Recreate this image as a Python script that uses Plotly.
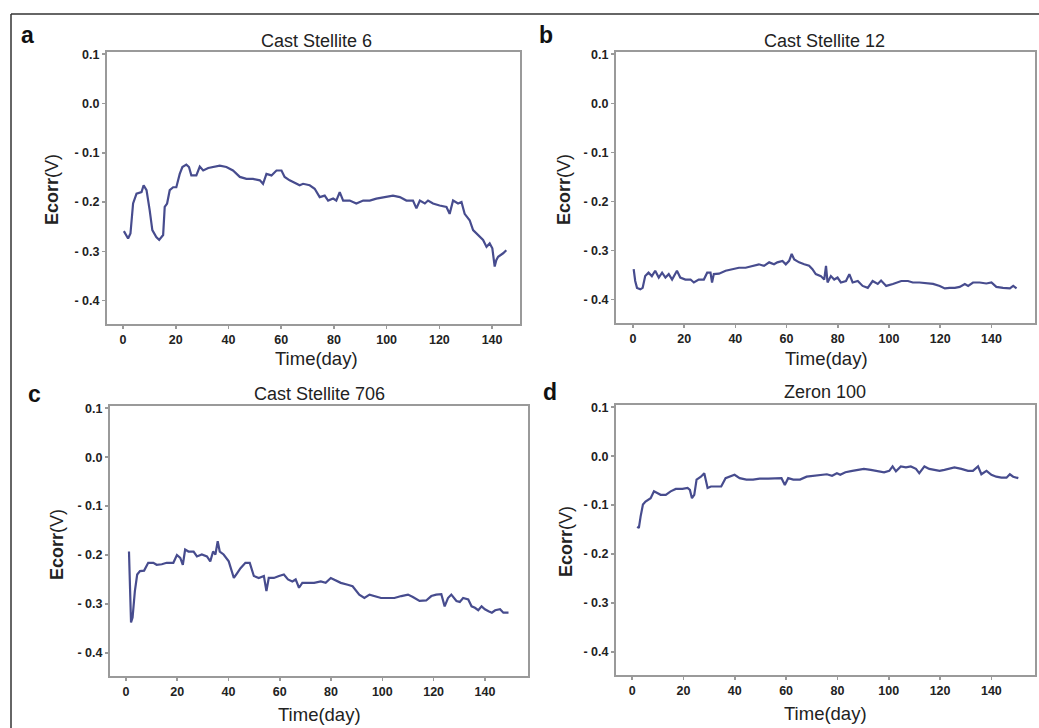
import plotly.graph_objects as go

W, H = 1039, 728

# ---------------- data ----------------
titles = ["Cast Stellite 6", "Cast Stellite 12", "Cast Stellite 706", "Zeron 100"]
letters = ["a", "b", "c", "d"]
x_ticks = [0, 20, 40, 60, 80, 100, 120, 140]
y_ticks = [0.1, 0.0, -0.1, -0.2, -0.3, -0.4]
y_tick_text = ["0.1", "0.0", "- 0.1", "- 0.2", "- 0.3", "- 0.4"]
x_label = "Time(day)"
y_label = "<b>Ecorr</b>(V)"

days_a = [0.3, 1.0, 1.9, 2.8, 3.8, 5.1, 7.0, 7.8, 8.9, 10.1, 11.1, 12.6, 13.7, 15.2, 15.8, 16.7,
          17.7, 19.0, 20.2, 21.5, 22.5, 24.0, 25.0, 25.9, 27.8, 29.1, 30.4, 32.3, 34.1, 36.7, 39.2,
          41.7, 44.3, 46.8, 49.3, 51.9, 53.1, 54.4, 56.3, 58.2, 60.1, 61.3, 63.2, 65.8, 67.0, 68.3,
          70.8, 72.7, 74.6, 76.5, 77.8, 79.7, 80.9, 82.2, 83.5, 86.0, 88.5, 91.1, 93.6, 96.1, 98.6,
          102.4, 105.0, 107.5, 110.0, 111.3, 112.6, 114.5, 115.7, 117.6, 120.1, 122.7, 123.9, 125.2,
          127.1, 128.4, 129.6, 131.5, 132.8, 134.1, 135.3, 136.6, 137.9, 139.1, 140.1, 141.0, 141.6,
          142.3, 144.2, 145.4]
ecorr_a = [-0.259, -0.267, -0.274, -0.264, -0.203, -0.183, -0.180, -0.166, -0.176, -0.217, -0.257,
           -0.271, -0.277, -0.267, -0.210, -0.203, -0.176, -0.170, -0.170, -0.143, -0.129, -0.124,
           -0.129, -0.146, -0.146, -0.128, -0.136, -0.131, -0.129, -0.126, -0.129, -0.136, -0.149,
           -0.153, -0.153, -0.156, -0.163, -0.143, -0.146, -0.136, -0.136, -0.149, -0.156, -0.163,
           -0.166, -0.163, -0.166, -0.173, -0.190, -0.187, -0.197, -0.193, -0.197, -0.180, -0.197,
           -0.197, -0.203, -0.197, -0.197, -0.193, -0.190, -0.187, -0.190, -0.197, -0.197, -0.213,
           -0.197, -0.203, -0.197, -0.203, -0.207, -0.210, -0.224, -0.197, -0.203, -0.200, -0.224,
           -0.237, -0.257, -0.264, -0.271, -0.277, -0.291, -0.284, -0.294, -0.331, -0.318, -0.311,
           -0.304, -0.298]

days_b = [0.3, 0.9, 1.6, 2.9, 3.8, 4.8, 6.1, 7.4, 8.7, 10.1, 11.4, 12.7, 14.0, 15.3, 17.2, 18.5,
          20.5, 22.5, 23.8, 25.7, 27.7, 29.0, 30.3, 30.9, 31.6, 33.6, 36.2, 38.8, 41.4, 44.0, 46.6,
          49.2, 51.2, 53.2, 55.1, 56.4, 58.4, 59.7, 61.0, 62.0, 63.0, 64.9, 66.9, 68.8, 70.1, 71.4,
          73.4, 74.7, 75.4, 76.0, 77.3, 78.6, 79.9, 81.2, 83.2, 84.5, 85.8, 87.8, 89.7, 91.7, 93.6,
          95.6, 96.9, 98.9, 101.5, 104.8, 107.4, 109.3, 111.9, 114.6, 117.2, 119.8, 121.8, 123.7,
          125.7, 127.6, 129.6, 130.9, 132.8, 135.4, 138.0, 140.0, 141.9, 144.5, 147.2, 148.5, 149.8]
ecorr_b = [-0.338, -0.362, -0.376, -0.379, -0.376, -0.352, -0.345, -0.352, -0.341, -0.355, -0.345,
           -0.355, -0.348, -0.359, -0.341, -0.355, -0.359, -0.359, -0.365, -0.359, -0.359, -0.345,
           -0.345, -0.365, -0.348, -0.347, -0.341, -0.338, -0.335, -0.335, -0.331, -0.328, -0.331,
           -0.324, -0.328, -0.324, -0.321, -0.328, -0.321, -0.307, -0.318, -0.324, -0.328, -0.331,
           -0.338, -0.348, -0.352, -0.359, -0.331, -0.365, -0.352, -0.359, -0.355, -0.365, -0.362,
           -0.348, -0.365, -0.362, -0.372, -0.376, -0.362, -0.368, -0.361, -0.372, -0.368, -0.362,
           -0.362, -0.365, -0.365, -0.367, -0.368, -0.372, -0.377, -0.376, -0.376, -0.374, -0.368,
           -0.372, -0.365, -0.365, -0.367, -0.365, -0.374, -0.376, -0.377, -0.372, -0.377]

days_c = [1.2, 1.6, 2.0, 2.6, 3.5, 4.4, 5.5, 7.1, 8.7, 10.7, 12.0, 14.0, 15.9, 18.5, 19.9, 21.2,
          22.2, 23.1, 24.4, 26.4, 27.7, 29.6, 31.6, 32.9, 34.0, 34.9, 35.8, 36.6, 38.1, 40.1, 42.1,
          43.4, 44.7, 46.6, 48.3, 49.9, 51.8, 53.8, 54.8, 55.7, 57.7, 59.7, 61.6, 63.2, 64.9, 66.2,
          67.5, 68.8, 70.8, 73.4, 76.0, 77.9, 79.9, 81.9, 83.8, 86.5, 88.4, 91.0, 93.0, 95.0, 96.9,
          99.5, 102.1, 104.7, 107.4, 110.0, 111.9, 114.5, 117.1, 119.1, 121.0, 123.0, 124.3, 125.6,
          126.9, 128.9, 130.2, 131.5, 133.5, 134.8, 136.1, 137.4, 138.7, 140.0, 141.4, 142.7, 144.0,
          145.9, 147.2, 149.2]
ecorr_c = [-0.193, -0.254, -0.338, -0.328, -0.274, -0.240, -0.233, -0.232, -0.216, -0.216, -0.220,
           -0.219, -0.216, -0.216, -0.200, -0.206, -0.220, -0.189, -0.193, -0.193, -0.203, -0.199,
           -0.203, -0.213, -0.193, -0.199, -0.172, -0.193, -0.199, -0.213, -0.247, -0.237, -0.227,
           -0.216, -0.216, -0.243, -0.247, -0.243, -0.274, -0.247, -0.247, -0.243, -0.240, -0.250,
           -0.254, -0.250, -0.267, -0.257, -0.257, -0.257, -0.254, -0.257, -0.247, -0.252, -0.257,
           -0.261, -0.264, -0.281, -0.288, -0.281, -0.284, -0.288, -0.288, -0.288, -0.284, -0.281,
           -0.286, -0.294, -0.293, -0.284, -0.281, -0.280, -0.305, -0.288, -0.281, -0.294, -0.296,
           -0.288, -0.291, -0.305, -0.308, -0.313, -0.305, -0.311, -0.315, -0.318, -0.313, -0.311,
           -0.318, -0.318]

days_d = [2.0, 2.6, 3.3, 4.2, 5.2, 7.2, 8.5, 9.8, 11.1, 13.1, 15.0, 17.0, 19.6, 21.6, 22.5, 23.3,
          24.2, 25.1, 26.8, 28.1, 29.4, 30.7, 32.7, 34.7, 36.4, 37.9, 39.9, 41.9, 44.5, 47.1, 49.7,
          53.0, 56.3, 58.2, 59.5, 60.8, 62.8, 65.4, 68.0, 70.7, 73.3, 75.9, 77.9, 79.8, 81.1, 83.1,
          85.8, 87.7, 90.3, 93.0, 95.6, 98.2, 100.2, 101.5, 102.8, 104.7, 106.7, 108.6, 110.6, 111.9,
          113.9, 115.8, 117.8, 119.8, 121.7, 123.7, 125.6, 128.3, 130.9, 132.8, 134.8, 136.1, 138.1,
          140.0, 141.9, 143.9, 145.9, 147.2, 148.5, 150.5]
ecorr_d = [-0.144, -0.147, -0.123, -0.099, -0.093, -0.086, -0.072, -0.076, -0.079, -0.079, -0.072,
           -0.067, -0.067, -0.065, -0.069, -0.086, -0.079, -0.048, -0.042, -0.035, -0.065, -0.062,
           -0.062, -0.062, -0.045, -0.042, -0.038, -0.045, -0.048, -0.048, -0.046, -0.046, -0.045,
           -0.045, -0.059, -0.045, -0.048, -0.048, -0.042, -0.040, -0.038, -0.037, -0.040, -0.035,
           -0.038, -0.033, -0.030, -0.028, -0.026, -0.028, -0.030, -0.033, -0.030, -0.021, -0.031,
           -0.021, -0.023, -0.021, -0.026, -0.035, -0.021, -0.026, -0.028, -0.030, -0.028, -0.025,
           -0.023, -0.026, -0.030, -0.030, -0.021, -0.037, -0.030, -0.038, -0.042, -0.044, -0.044,
           -0.037, -0.042, -0.045]

series = [(days_a, ecorr_a), (days_b, ecorr_b), (days_c, ecorr_c), (days_d, ecorr_d)]

# ---------------- layout geometry (pixels) ----------------
# plot boxes: left, right, top, bottom
boxes = [(107, 520, 48, 322), (616, 1035, 48, 321), (110, 528, 404, 676), (616, 1035, 403, 675)]
x_ranges = [[-6.1, 150.6], [-6.6, 157.0], [-6.2, 156.8], [-6.3, 157.0]]
y_range = [-0.448, 0.105]
title_pos = [(316, 37), (824, 37), (319, 392), (825, 390)]
letter_pos = [(27, 31), (546, 31), (34, 392), (550, 390)]
ylab_pos = [(52, 187), (564, 187), (57, 544), (566, 541)]
xlab_pos = [(316, 356), (826, 356), (319, 714), (825, 713)]

FONT = "Arial, Liberation Sans, sans-serif"
LINE_COLOR = "#474c8e"
AXIS_COLOR = "#9a9a9a"

def px(x):
    return x / W

def py(y):
    return 1 - y / H

fig = go.Figure()
layout = dict(
    width=W, height=H,
    margin=dict(l=0, r=0, t=0, b=0),
    paper_bgcolor="white", plot_bgcolor="white",
    showlegend=False,
    font=dict(family=FONT, color="#222"),
)
annotations = []

for i, (d, e) in enumerate(series):
    n = i + 1
    xa = "x" if n == 1 else f"x{n}"
    ya = "y" if n == 1 else f"y{n}"
    fig.add_trace(go.Scatter(x=d, y=e, mode="lines", xaxis=xa, yaxis=ya,
                             line=dict(color=LINE_COLOR, width=2.2), hoverinfo="skip"))
    l, r, t, b = boxes[i]
    axis_common = dict(showgrid=False, zeroline=False, showline=True, mirror=True,
                       linecolor=AXIS_COLOR, linewidth=2, ticks="outside", ticklen=3,
                       tickcolor=AXIS_COLOR, tickwidth=1.5,
                       tickfont=dict(family=FONT, size=12.5, color="#222", weight="bold"))
    layout["xaxis" if n == 1 else f"xaxis{n}"] = dict(
        domain=[px(l), px(r)], anchor=ya, range=x_ranges[i],
        tickvals=x_ticks, ticktext=[str(v) for v in x_ticks], **axis_common)
    layout["yaxis" if n == 1 else f"yaxis{n}"] = dict(
        domain=[py(b), py(t)], anchor=xa, range=y_range,
        tickvals=y_ticks, ticktext=y_tick_text, **axis_common)

    annotations.append(dict(text=titles[i], x=px(title_pos[i][0]), y=py(title_pos[i][1]),
                            xref="paper", yref="paper", showarrow=False,
                            xanchor="center", yanchor="middle",
                            font=dict(family=FONT, size=18, color="#222")))
    annotations.append(dict(text=f"<b>{letters[i]}</b>", x=px(letter_pos[i][0]), y=py(letter_pos[i][1]),
                            xref="paper", yref="paper", showarrow=False,
                            xanchor="center", yanchor="middle",
                            font=dict(family=FONT, size=23, color="#111")))
    annotations.append(dict(text=y_label, x=px(ylab_pos[i][0]), y=py(ylab_pos[i][1]),
                            xref="paper", yref="paper", showarrow=False, textangle=-90,
                            xanchor="center", yanchor="middle",
                            font=dict(family=FONT, size=18, color="#222")))
    annotations.append(dict(text=x_label, x=px(xlab_pos[i][0]), y=py(xlab_pos[i][1]),
                            xref="paper", yref="paper", showarrow=False,
                            xanchor="center", yanchor="middle",
                            font=dict(family=FONT, size=18.5, color="#222")))

layout["annotations"] = annotations
layout["shapes"] = [
    dict(type="line", xref="paper", yref="paper", x0=px(11), x1=1.0, y0=py(10), y1=py(10),
         line=dict(color="#333", width=1.5)),
    dict(type="line", xref="paper", yref="paper", x0=px(11), x1=px(11), y0=py(10), y1=0.0,
         line=dict(color="#333", width=1.5)),
]

fig.update_layout(**layout)
fig.write_html("out.html",
               config={"displayModeBar": False, "staticPlot": True},
               post_script="document.body.style.margin='0';document.body.style.overflow='hidden';")
